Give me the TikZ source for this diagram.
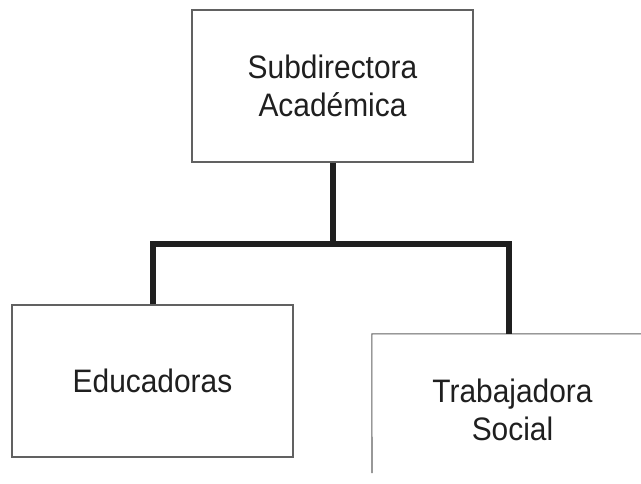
\documentclass[tikz,border=0pt]{standalone}
\usepackage{fontspec}
\setmainfont{Liberation Sans}
\newfontfamily\orgfont[FakeStretch=0.92]{Liberation Sans}
\begin{document}
\begin{tikzpicture}[x=1pt,y=-1pt,
  boxline/.style={draw=black!62, line width=1.1pt},
  orgbox/.style={minimum width=281pt, minimum height=152pt, inner sep=0pt,
    align=center, text=black!88, font=\orgfont\fontsize{32.5}{38.5}\selectfont},
  link/.style={draw=black!88, line width=6pt}]
\clip (0,0) rectangle (641,483);
\useasboundingbox (0,0) rectangle (641,483);
\node[orgbox, boxline] (top) at (332.5,86) {Subdirectora\\Académica};
\node[orgbox, boxline] (edu) at (152.5,381) {Educadoras};
\node[orgbox] (ts) at (512.5,410) {Trabajadora\\Social};
\coordinate (tsleftend) at (372,473);
\draw[boxline] (ts.north east) -- (ts.north west) -- (tsleftend);
\coordinate (junction) at (332.5,244);
\draw[link] (top.south) -- (junction);
\draw[link] (edu.north) |- (junction) -| (ts.north -| 509,0);
\end{tikzpicture}
\end{document}
